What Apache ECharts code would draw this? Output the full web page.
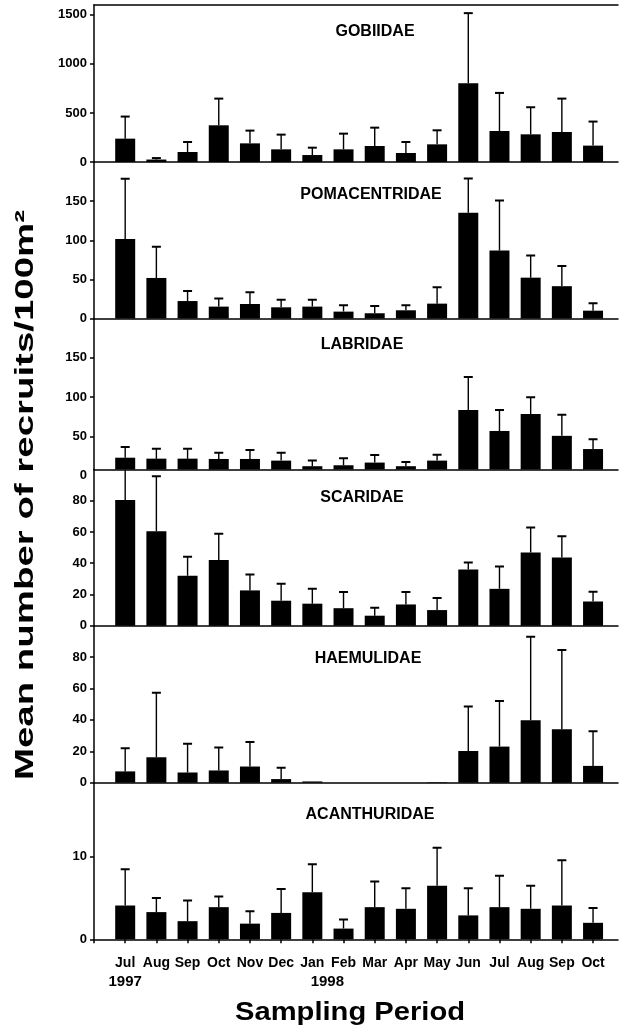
<!DOCTYPE html>
<html lang="en">
<head>
    <meta charset="UTF-8">
    <title>Mean number of recruits per sampling period</title>
    <script src="https://cdn.jsdelivr.net/npm/echarts/dist/echarts.min.js"></script>
    <style>
        body { margin: 0; background: #fff; }
        #main { width: 624px; height: 1035px; }
    </style>
</head>
<body>
    <div id="main"></div>

    <script>
        // sampling months, Jul 1997 .. Oct 1998
        var months = ['Jul', 'Aug', 'Sep', 'Oct', 'Nov', 'Dec', 'Jan', 'Feb', 'Mar', 'Apr', 'May', 'Jun', 'Jul', 'Aug', 'Sep', 'Oct'];
        var years = ['1997', '', '', '', '', '', '1998', '', '', '', '', '', '', '', '', ''];

        var families = ['GOBIIDAE', 'POMACENTRIDAE', 'LABRIDAE', 'SCARIDAE', 'HAEMULIDAE', 'ACANTHURIDAE'];

        // means and standard errors (upper whisker only)
        var gobiidaeMean = [238, 25, 102, 374, 190, 129, 71, 129, 163, 92, 180, 803, 316, 282, 306, 167];
        var gobiidaeSE   = [225, 15, 102, 272, 130, 150, 75, 160, 187, 112, 143, 714, 388, 276, 340, 245];

        var pomacentridaeMean = [101.5, 51.8, 22.3, 15.2, 18.5, 14.3, 15.2, 8.8, 6.7, 10.5, 19, 135, 86.8, 52.2, 41.3, 10];
        var pomacentridaeSE   = [77, 40, 12.7, 10.5, 15.2, 9.7, 8.8, 8, 9.3, 6.3, 21, 44, 64, 28.3, 25.7, 9.4];

        var labridaeMean = [23, 21.8, 21.8, 21.4, 21.4, 19.3, 12.2, 13.4, 16.8, 12.2, 19.3, 83.6, 57, 78.6, 50.8, 34];
        var labridaeSE   = [13.6, 12.7, 12.7, 8, 11.4, 10.1, 7.1, 8.9, 9.7, 5.4, 7.6, 42, 26.6, 21.4, 26.9, 12.6];

        var scaridaeMean = [80.4, 60.5, 31.9, 42, 22.6, 16, 14.1, 11.2, 6.4, 13.6, 10, 36, 23.6, 46.8, 43.6, 15.5];
        var scaridaeSE   = [23.6, 35.1, 12.2, 16.9, 10.1, 10.8, 9.5, 10.3, 5.1, 7.9, 7.7, 4.4, 14.3, 16, 13.6, 6.2];

        var haemulidaeMean = [7.2, 16.2, 6.5, 7.8, 10.3, 2.3, 0.8, 0, 0, 0, 0.3, 20.2, 23, 39.8, 34, 10.7];
        var haemulidaeSE   = [14.8, 41.1, 18.3, 14.7, 15.7, 7.2, 0, 0, 0, 0, 0, 28.4, 29, 53.2, 50.6, 22.1];

        var acanthuridaeMean = [4.1, 3.3, 2.2, 3.9, 1.9, 3.2, 5.7, 1.3, 3.9, 3.7, 6.5, 2.9, 3.9, 3.7, 4.1, 2.0];
        var acanthuridaeSE   = [4.4, 1.7, 2.5, 1.3, 1.5, 2.9, 3.4, 1.1, 3.1, 2.5, 4.6, 3.3, 3.8, 2.8, 5.5, 1.8];

        var means = [gobiidaeMean, pomacentridaeMean, labridaeMean, scaridaeMean, haemulidaeMean, acanthuridaeMean];
        var ses = [gobiidaeSE, pomacentridaeSE, labridaeSE, scaridaeSE, haemulidaeSE, acanthuridaeSE];

        // axis ranges per panel (labridae axis starts a bit above zero, as in the figure)
        var yMin = [0, 0, 8, 0, 0, 0];
        var yMax = [1600, 200, 200, 100, 100, 19];
        var yStep = [500, 50, null, 20, 20, 10];
        var labridaeTicks = [50, 100, 150, 200];
        var labridaeLabels = [50, 100, 150];

        // panel layout in pixels
        var panelTop = [5, 162, 318.5, 469.5, 625.7, 782.7];
        var panelBottom = [162, 318.5, 469.5, 625.7, 782.7, 939.3];
        var titlePos = [[375, 32], [371, 195], [362, 345], [362, 498], [368, 659], [370, 815]];

        var FONT = '"Liberation Sans", Arial, sans-serif';
        var chart = echarts.init(document.getElementById('main'));

        function renderErr(params, api) {
            var x = api.value(0), m = api.value(1), se = api.value(2);
            if (!(se > 0)) return null;
            var p0 = api.coord([x, m]);
            var p1 = api.coord([x, m + se]);
            return {
                type: 'group',
                children: [
                    { type: 'line', shape: { x1: p0[0], y1: p0[1], x2: p1[0], y2: p1[1] }, style: { stroke: '#000', lineWidth: 1.4 } },
                    { type: 'line', shape: { x1: p1[0] - 4.5, y1: p1[1], x2: p1[0] + 4.5, y2: p1[1] }, style: { stroke: '#000', lineWidth: 2 } }
                ]
            };
        }

        var grids = [], xAxes = [], yAxes = [], series = [];
        var last = families.length - 1;

        families.forEach(function (name, i) {
            grids.push({ left: 94, right: 6, top: panelTop[i], height: panelBottom[i] - panelTop[i] });

            xAxes.push({
                type: 'value', gridIndex: i, min: 0, max: 16.8, interval: 1,
                axisLine: { show: true, lineStyle: { color: '#000', width: 1.5 } },
                axisTick: { show: i === last, length: 4, lineStyle: { color: '#000', width: 1.5 } },
                splitLine: { show: false },
                axisLabel: {
                    show: i === last, interval: 0, margin: 14, showMaxLabel: false,
                    formatter: function (v) {
                        var k = Math.round(v) - 1;
                        if (k < 0 || k >= months.length || Math.abs(v - k - 1) > 1e-6) return '';
                        if (!years[k]) return '{m|' + months[k] + '}';
                        return '{m|' + months[k] + '}\n{' + (k === 0 ? 'y' : 'y2') + '|' + years[k] + '}';
                    },
                    rich: {
                        m: { fontFamily: FONT, fontWeight: 'bold', fontSize: 14, lineHeight: 19, color: '#000' },
                        y: { fontFamily: FONT, fontWeight: 'bold', fontSize: 15, lineHeight: 19, color: '#000' },
                        y2: { fontFamily: FONT, fontWeight: 'bold', fontSize: 15, lineHeight: 19, color: '#000', padding: [0, 0, 0, 30] }
                    }
                }
            });

            var ya = {
                type: 'value', gridIndex: i, min: yMin[i], max: yMax[i],
                axisLine: { show: true, lineStyle: { color: '#000', width: 1.5 } },
                axisTick: { show: true, length: 4, lineStyle: { color: '#000', width: 1.5 } },
                splitLine: { show: false },
                axisLabel: {
                    margin: 7, showMaxLabel: false, showMinLabel: true,
                    color: '#000', fontFamily: FONT, fontWeight: 'bold', fontSize: 13,
                    formatter: function (v) { return String(v); }
                }
            };
            if (yStep[i]) {
                ya.interval = yStep[i];
            } else {
                ya.axisTick.customValues = labridaeTicks;
                ya.axisLabel.customValues = labridaeLabels;
                ya.axisLabel.showMaxLabel = true;
            }
            yAxes.push(ya);

            series.push({
                type: 'bar', xAxisIndex: i, yAxisIndex: i, barWidth: 20, clip: true,
                itemStyle: { color: '#000' },
                data: means[i].map(function (v, k) { return [k + 1, v]; })
            });
            series.push({
                type: 'custom', xAxisIndex: i, yAxisIndex: i, clip: true, z: 3,
                renderItem: renderErr,
                data: means[i].map(function (v, k) { return [k + 1, v, ses[i][k]]; })
            });
        });

        // frame line along the top of the first panel
        xAxes.push({
            type: 'value', gridIndex: 0, position: 'top', min: 0, max: 16.8,
            axisLine: { show: true, lineStyle: { color: '#000', width: 1.5 } },
            axisTick: { show: false }, axisLabel: { show: false }, splitLine: { show: false }
        });

        chart.setOption({
            animation: false,
            backgroundColor: '#fff',
            grid: grids,
            xAxis: xAxes,
            yAxis: yAxes,
            series: series
        });

        // axis titles are drawn stretched, as in the printed figure
        function textWidth(txt, font) {
            var ctx = document.createElement('canvas').getContext('2d');
            ctx.font = font;
            return ctx.measureText(txt).width;
        }

        var yTitle = 'Mean number of recruits/100m\u00B2';
        var yTitleFont = 'bold 26px ' + FONT;
        var xTitle = 'Sampling Period';
        var xTitleFont = 'bold 25px ' + FONT;

        var graphics = families.map(function (name, i) {
            return {
                type: 'text', x: titlePos[i][0], y: titlePos[i][1],
                style: { text: name, align: 'center', verticalAlign: 'middle', font: 'bold 16px ' + FONT, fill: '#000' }
            };
        });
        graphics.push({
            type: 'text', x: 26, y: 495, rotation: Math.PI / 2,
            scaleX: 570 / textWidth(yTitle, yTitleFont),
            style: { text: yTitle, align: 'center', verticalAlign: 'middle', font: yTitleFont, fill: '#000' }
        });
        graphics.push({
            type: 'text', x: 350, y: 1013,
            scaleX: 230 / textWidth(xTitle, xTitleFont),
            style: { text: xTitle, align: 'center', verticalAlign: 'middle', font: xTitleFont, fill: '#000' }
        });
        // the labridae zero label sits just below its panel
        var zeroY = chart.convertToPixel({ yAxisIndex: 2 }, 0);
        graphics.push({
            type: 'text', x: 87, y: zeroY,
            style: { text: '0', align: 'right', verticalAlign: 'middle', font: 'bold 13px ' + FONT, fill: '#000' }
        });

        chart.setOption({ graphic: graphics });
    </script>
</body>
</html>
